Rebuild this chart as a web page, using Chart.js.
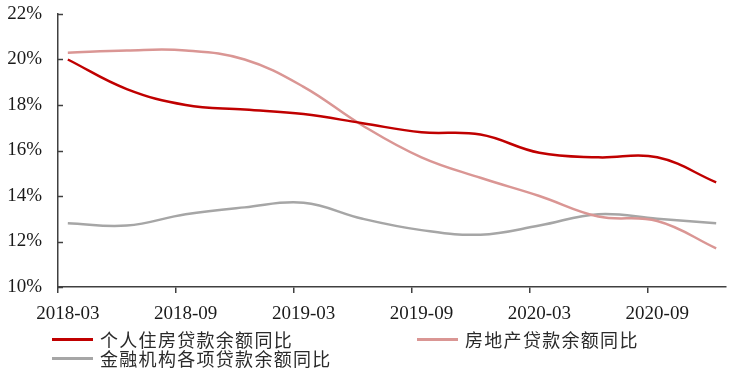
<!DOCTYPE html>
<html>
<head>
<meta charset="utf-8">
<script src="https://cdn.jsdelivr.net/npm/chart.js@4/dist/chart.umd.min.js"></script>
<style>
  html, body { margin: 0; padding: 0; background: #fff; }
  #wrap { position: relative; width: 734px; height: 374px; }
  canvas { position: absolute; left: 0; top: 0; }
  .lg { position: absolute; font-family: "Noto Sans CJK SC", sans-serif; font-size: 18px; letter-spacing: 1.3px; color: #2a2a2a; line-height: 20px; white-space: nowrap; }
  .sw { position: absolute; width: 41px; height: 3px; }
</style>
</head>
<body>
<div id="wrap">
  <canvas id="c" width="734" height="374"></canvas>
</div>
<script>
// Monthly category axis
const months = [
  '2018-03','2018-04','2018-05','2018-06','2018-07','2018-08','2018-09','2018-10','2018-11','2018-12',
  '2019-01','2019-02','2019-03','2019-04','2019-05','2019-06','2019-07','2019-08','2019-09','2019-10','2019-11','2019-12',
  '2020-01','2020-02','2020-03','2020-04','2020-05','2020-06','2020-07','2020-08','2020-09','2020-10','2020-11','2020-12'
];
// Quarterly observation dates
const quarters = ['2018-03','2018-06','2018-09','2018-12','2019-03','2019-06','2019-09','2019-12','2020-03','2020-06','2020-09','2020-12'];
// Series values (%)
const personalHousing = [20.0, 18.7, 18.0, 17.8, 17.6, 17.2, 16.8, 16.7, 15.9, 15.7, 15.7, 14.6];
const realEstate      = [20.3, 20.4, 20.4, 20.0, 18.8, 17.1, 15.7, 14.8, 14.0, 13.1, 12.9, 11.7];
const allLoans        = [12.8, 12.7, 13.2, 13.5, 13.7, 13.0, 12.5, 12.3, 12.7, 13.2, 13.0, 12.8];
const seriesNames = ['个人住房贷款余额同比', '房地产贷款余额同比', '金融机构各项贷款余额同比'];
const seriesColors = ['#C00000', '#DA9694', '#A6A6A6'];
const yTicks = { min: 10, max: 22, step: 2 };

const toPts = arr => quarters.map((q, i) => ({ x: q, y: arr[i] }));

const insideYTicks = {
  id: 'insideYTicks',
  afterDraw(chart) {
    const ctx = chart.ctx, ys = chart.scales.y, left = chart.chartArea.left;
    ctx.save();
    ctx.strokeStyle = '#404040';
    ctx.lineWidth = 1.5;
    ys.ticks.forEach((t, i) => {
      const py = Math.round(ys.getPixelForTick(i)) + 0.5;
      ctx.beginPath();
      ctx.moveTo(left, py);
      ctx.lineTo(left + 5, py);
      ctx.stroke();
    });
    ctx.restore();
  }
};

const datasets = [personalHousing, realEstate, allLoans].map((arr, i) => ({
  label: seriesNames[i],
  data: toPts(arr),
  borderColor: seriesColors[i],
  backgroundColor: seriesColors[i],
  borderWidth: 2.5,
  pointRadius: 0,
  tension: 0.4,
  fill: false
}));
datasets[0].order = 1; datasets[1].order = 2; datasets[2].order = 3;

new Chart(document.getElementById('c'), {
  type: 'line',
  data: { labels: months, datasets },
  options: {
    responsive: false,
    animation: false,
    layout: { padding: { left: 0, right: 8, top: 14, bottom: 47 } },
    plugins: { legend: { display: false }, tooltip: { enabled: false } },
    scales: {
      x: {
        type: 'category',
        offset: true,
        afterFit: s => { s.height = 40; },
        border: { display: true, color: '#404040', width: 1.5 },
        grid: {
          offset: true,
          drawOnChartArea: false,
          drawTicks: true,
          tickLength: 6,
          lineWidth: 1.5,
          color: c => (c.index % 6 === 0 ? '#404040' : 'rgba(0,0,0,0)')
        },
        ticks: {
          autoSkip: false,
          maxRotation: 0,
          padding: 10,
          color: '#1a1a1a',
          font: { family: '"Liberation Serif", "Times New Roman", serif', size: 19 },
          callback: function (v, i) { return i % 6 === 0 ? this.getLabelForValue(v) : ''; }
        }
      },
      y: {
        min: yTicks.min,
        max: yTicks.max,
        afterFit: s => { s.width = 58; },
        border: { display: true, color: '#404040', width: 1.5 },
        grid: { display: true, drawOnChartArea: false, drawTicks: true, tickLength: 14, color: 'rgba(0,0,0,0)' },
        ticks: {
          stepSize: yTicks.step,
          padding: 2,
          color: '#1a1a1a',
          font: { family: '"Liberation Serif", "Times New Roman", serif', size: 19 },
          callback: v => v + '%'
        }
      }
    }
  },
  plugins: [insideYTicks]
});

// Legend (HTML, two-column layout)
const wrap = document.getElementById('wrap');
const legendPos = [
  { sx: 52, tx: 100, y: 339 },
  { sx: 417, tx: 465, y: 339 },
  { sx: 52, tx: 100, y: 358 }
];
seriesNames.forEach((name, i) => {
  const p = legendPos[i];
  const sw = document.createElement('div');
  sw.className = 'sw';
  sw.style.left = p.sx + 'px';
  sw.style.top = (p.y - 1.5) + 'px';
  sw.style.background = seriesColors[i];
  wrap.appendChild(sw);
  const t = document.createElement('div');
  t.className = 'lg';
  t.textContent = name;
  t.style.left = p.tx + 'px';
  t.style.top = (p.y - 10) + 'px';
  wrap.appendChild(t);
});
</script>
</body>
</html>
